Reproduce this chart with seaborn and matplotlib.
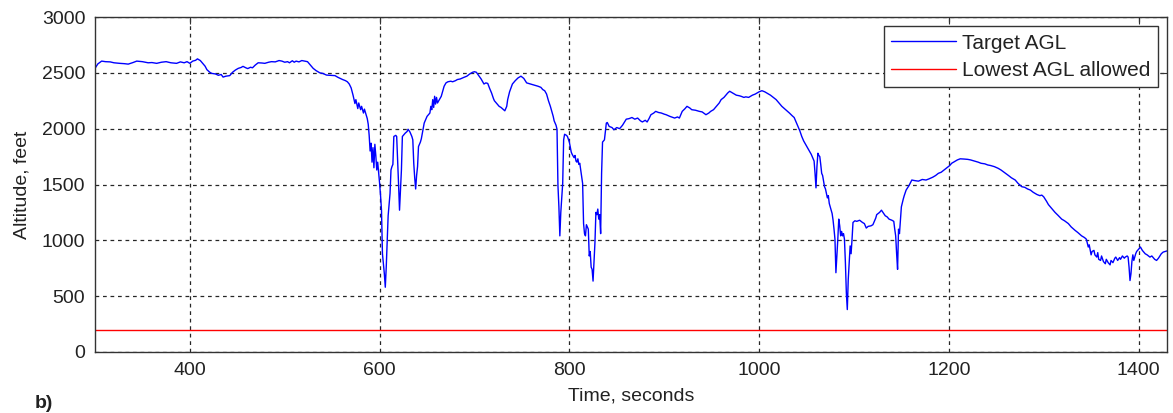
import numpy as np
import pandas as pd
import matplotlib
matplotlib.use("Agg")
import matplotlib.pyplot as plt
import seaborn as sns

# Flight record: time (s) and target altitude above ground level (ft)
time_s = [
    300, 303, 307, 311, 316, 320, 326, 331, 335, 340, 344, 350, 356, 360, 365, 370, 375, 380, 386, 390,
    394, 397, 400, 403, 406, 408, 411, 413, 416, 418, 421, 423, 427, 430, 433, 435, 438, 442, 445, 448,
    451, 454, 456, 459, 461, 464, 466, 469, 472, 476, 479, 483, 486, 490, 494, 497, 500, 503, 505, 508,
    510, 512, 515, 518, 521, 524, 527, 530, 533, 537, 540, 544, 548, 553, 556, 561, 564, 566, 568, 570,
    572, 574, 575, 577, 578, 580, 581, 583, 584, 586, 587, 588, 589, 590, 591, 592, 593, 594, 595, 596,
    597, 598, 600, 601, 602, 603, 605, 606, 607, 608, 609, 611, 612, 613, 614, 615, 617, 618, 619, 620,
    621, 622, 623, 624, 627, 629, 630, 632, 634, 635, 636, 637, 638, 639, 640, 641, 643, 644, 646, 647,
    649, 650, 652, 653, 654, 655, 656, 657, 658, 659, 660, 661, 663, 665, 667, 668, 670, 672, 675, 677,
    680, 682, 685, 689, 692, 695, 698, 700, 702, 705, 707, 710, 712, 714, 716, 718, 720, 721, 723, 726,
    728, 730, 732, 734, 735, 737, 740, 743, 746, 749, 752, 755, 759, 763, 767, 770, 772, 774, 776, 778,
    780, 781, 783, 784, 786, 787, 788, 789, 790, 791, 792, 793, 794, 795, 797, 798, 800, 802, 803, 805,
    806, 807, 808, 809, 810, 811, 812, 814, 815, 816, 817, 818, 819, 820, 821, 822, 823, 824, 825, 826,
    827, 828, 829, 830, 831, 832, 833, 834, 835, 837, 839, 840, 842, 845, 847, 850, 853, 856, 860, 863,
    866, 869, 872, 875, 877, 880, 882, 884, 886, 889, 891, 894, 897, 900, 902, 906, 911, 914, 916, 919,
    922, 924, 927, 929, 933, 937, 940, 944, 947, 949, 952, 955, 958, 960, 963, 965, 967, 969, 972, 976,
    979, 981, 984, 986, 989, 993, 996, 1000, 1003, 1006, 1008, 1012, 1015, 1018, 1021, 1024, 1028, 1032, 1035, 1037,
    1039, 1041, 1043, 1045, 1047, 1049, 1051, 1053, 1055, 1056, 1058, 1059, 1060, 1061, 1062, 1063, 1064, 1065, 1066, 1067,
    1069, 1070, 1072, 1073, 1074, 1076, 1077, 1078, 1079, 1080, 1081, 1082, 1083, 1084, 1085, 1086, 1087, 1088, 1089, 1090,
    1091, 1092, 1093, 1094, 1095, 1096, 1097, 1098, 1099, 1101, 1103, 1106, 1109, 1111, 1113, 1115, 1118, 1120, 1121, 1123,
    1124, 1127, 1129, 1131, 1133, 1135, 1137, 1140, 1142, 1143, 1144, 1145, 1146, 1147, 1148, 1150, 1152, 1153, 1155, 1158,
    1161, 1164, 1168, 1172, 1176, 1179, 1183, 1186, 1189, 1192, 1195, 1198, 1201, 1203, 1206, 1209, 1212, 1216, 1220, 1223,
    1227, 1231, 1234, 1238, 1241, 1244, 1248, 1252, 1255, 1259, 1263, 1266, 1270, 1273, 1277, 1280, 1283, 1286, 1289, 1291,
    1293, 1296, 1298, 1300, 1303, 1305, 1308, 1312, 1315, 1319, 1322, 1326, 1329, 1333, 1336, 1340, 1343, 1345, 1347, 1348,
    1350, 1351, 1353, 1354, 1356, 1357, 1358, 1360, 1361, 1363, 1365, 1366, 1368, 1370, 1371, 1373, 1375, 1376, 1378, 1380,
    1381, 1383, 1385, 1386, 1388, 1389, 1390, 1391, 1392, 1393, 1394, 1395, 1397, 1398, 1400, 1402, 1404, 1407, 1409, 1412,
    1414, 1417, 1419, 1421, 1424, 1426, 1428, 1430,
]

target_agl = [
    2540, 2580, 2605, 2600, 2598, 2590, 2585, 2582, 2578, 2592, 2605, 2600, 2590, 2592, 2585, 2595, 2600, 2590, 2585, 2598,
    2590, 2600, 2585, 2605, 2612, 2625, 2610, 2590, 2560, 2528, 2505, 2495, 2490, 2478, 2485, 2462, 2470, 2475, 2505, 2525,
    2540, 2548, 2558, 2545, 2538, 2550, 2545, 2570, 2590, 2588, 2585, 2595, 2600, 2598, 2610, 2605, 2595, 2600, 2590, 2608,
    2595, 2605, 2598, 2610, 2605, 2600, 2570, 2540, 2520, 2500, 2495, 2480, 2478, 2475, 2460, 2440, 2430, 2420, 2400, 2365,
    2300, 2225, 2260, 2180, 2230, 2170, 2200, 2140, 2175, 2120, 2090, 2040, 1940, 1800, 1870, 1700, 1830, 1650, 1860, 1760,
    1630, 1700, 1510, 1400, 1270, 880, 700, 580, 760, 1000, 1220, 1420, 1630, 1660, 1680, 1930, 1940, 1930, 1720, 1500,
    1270, 1450, 1630, 1930, 1960, 1975, 1995, 1970, 1930, 1900, 1690, 1560, 1460, 1580, 1660, 1840, 1880, 1910, 2000, 2050,
    2090, 2110, 2130, 2140, 2200, 2170, 2260, 2190, 2290, 2220, 2280, 2230, 2260, 2290, 2350, 2380, 2410, 2420, 2425, 2420,
    2430, 2440, 2445, 2460, 2470, 2490, 2505, 2510, 2505, 2470, 2445, 2400, 2410, 2405, 2360, 2320, 2270, 2250, 2230, 2200,
    2190, 2175, 2160, 2200, 2260, 2330, 2400, 2430, 2455, 2470, 2450, 2410, 2400, 2390, 2380, 2370, 2350, 2340, 2310, 2250,
    2200, 2170, 2110, 2070, 2030, 1995, 1490, 1300, 1040, 1250, 1380, 1510, 1900, 1950, 1940, 1930, 1880, 1790, 1770, 1740,
    1760, 1710, 1700, 1730, 1680, 1690, 1630, 1510, 1150, 1060, 1040, 1140, 1120, 1100, 860, 900, 760, 740, 635, 800,
    980, 1250, 1230, 1280, 1190, 1230, 1060, 1600, 1880, 1900, 2050, 2055, 2020, 2010, 1990, 2010, 2000, 2030, 2085, 2090,
    2100, 2085, 2095, 2070, 2060, 2075, 2060, 2090, 2125, 2140, 2155, 2145, 2140, 2130, 2125, 2110, 2095, 2105, 2095, 2155,
    2180, 2200, 2185, 2170, 2165, 2155, 2150, 2125, 2140, 2155, 2170, 2200, 2230, 2260, 2280, 2300, 2320, 2335, 2320, 2300,
    2295, 2290, 2280, 2285, 2280, 2300, 2310, 2330, 2340, 2330, 2320, 2300, 2280, 2260, 2230, 2200, 2170, 2140, 2115, 2100,
    2060, 2020, 1980, 1930, 1890, 1860, 1830, 1800, 1770, 1750, 1710, 1600, 1470, 1660, 1780, 1760, 1750, 1680, 1600, 1580,
    1480, 1460, 1380, 1400, 1330, 1270, 1240, 1180, 1100, 1010, 710, 860, 1010, 1190, 1130, 1040, 1080, 1040, 1060, 1010,
    800, 530, 380, 650, 800, 950, 880, 1010, 1160, 1175, 1170, 1180, 1160, 1150, 1110, 1125, 1130, 1140, 1160, 1200,
    1230, 1250, 1270, 1245, 1220, 1210, 1190, 1180, 1170, 1100, 1040, 880, 740, 1100, 1060, 1300, 1370, 1400, 1450, 1490,
    1540, 1535, 1530, 1545, 1540, 1550, 1565, 1580, 1600, 1610, 1630, 1650, 1670, 1690, 1705, 1720, 1730, 1728, 1725, 1720,
    1710, 1700, 1690, 1685, 1675, 1670, 1660, 1645, 1630, 1605, 1580, 1560, 1540, 1510, 1480, 1475, 1460, 1450, 1430, 1420,
    1410, 1400, 1405, 1390, 1350, 1320, 1290, 1250, 1225, 1190, 1175, 1150, 1120, 1090, 1070, 1040, 1025, 1010, 940, 960,
    870, 900, 910, 870, 850, 890, 830, 820, 860, 810, 790, 830, 800, 780, 820, 800, 840, 850, 820, 845,
    830, 860, 840, 850, 860, 850, 760, 640, 700, 810, 870, 820, 880, 900, 920, 940, 910, 880, 870, 850,
    860, 830, 820, 840, 880, 895, 900, 905,
]

# Minimum permitted altitude
limit_time = [300, 1430]
limit_agl = [200, 200]

x_ticks = [400, 600, 800, 1000, 1200, 1400]
y_ticks = [0, 500, 1000, 1500, 2000, 2500, 3000]

target = pd.DataFrame({"Time": time_s, "AGL": target_agl, "Series": "Target AGL"})
limit = pd.DataFrame({"Time": limit_time, "AGL": limit_agl, "Series": "Lowest AGL allowed"})

sns.set_style("white", {"xtick.direction": "in", "ytick.direction": "in"})
plt.rcParams["font.family"] = ["Liberation Sans", "DejaVu Sans"]

fig = plt.figure(figsize=(11.73, 4.13), dpi=100)
ax = fig.add_axes([95 / 1173, 1 - 352 / 413, (1167 - 95) / 1173, (352 - 17) / 413])

sns.lineplot(data=target, x="Time", y="AGL", color="#0000ff", linewidth=1.0,
             estimator=None, sort=False, ax=ax, label="Target AGL")
sns.lineplot(data=limit, x="Time", y="AGL", color="#ff0000", linewidth=1.0,
             estimator=None, sort=False, ax=ax, label="Lowest AGL allowed")

ax.set_xlim(300, 1430)
ax.set_ylim(0, 3000)
ax.set_xticks(x_ticks)
ax.set_yticks(y_ticks)
ax.tick_params(axis="both", which="both", direction="in", length=5, width=0.8,
               color="#333333", labelsize=14, labelcolor="#222222",
               top=True, right=True, pad=7)
ax.grid(True, linestyle=(0, (3, 3)), color="#000000", linewidth=0.9, alpha=0.85)
ax.set_axisbelow(True)
for side in ax.spines.values():
    side.set_visible(True)
    side.set_color("#333333")
    side.set_linewidth(1.0)

ax.set_xlabel("Time, seconds", fontsize=14, color="#222222", labelpad=6)
ax.set_ylabel("Altitude, feet", fontsize=14, color="#222222", labelpad=8)

leg = ax.legend(loc="upper right", fontsize=15, frameon=True, fancybox=False,
                handlelength=3.1, handletextpad=0.3, borderpad=0.35,
                labelspacing=0.4, borderaxespad=0.45)
leg.get_frame().set_edgecolor("#333333")
leg.get_frame().set_linewidth(1.0)
leg.get_frame().set_alpha(1.0)
for txt in leg.get_texts():
    txt.set_color("#222222")

fig.text(35 / 1173, 1 - 403 / 413, "b)", fontsize=14, fontweight="bold",
         color="#222222", ha="left", va="center")

fig.savefig("out.png", dpi=100)
